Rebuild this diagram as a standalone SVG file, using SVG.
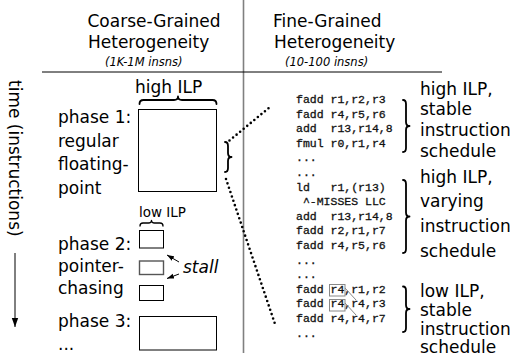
<svg xmlns="http://www.w3.org/2000/svg" width="513" height="362" viewBox="0 0 513 362">
<style>
  text { font-family: "DejaVu Sans", "Liberation Sans", sans-serif; fill: #000; }
  .h { font-size: 17px; }
  .sub { font-size: 11.5px; font-style: italic; }
  .lbl { font-size: 17px; }
  .small { font-size: 13.5px; }
  .code { font-family: "Liberation Mono", "DejaVu Sans Mono", monospace; font-size: 11.5px; fill: #111; stroke: #111; stroke-width: 0.3; white-space: pre; }
  .box { fill: none; stroke: #000; stroke-width: 1; }
  .brace { fill: none; stroke: #000; stroke-width: 1.8; stroke-linecap: round; stroke-linejoin: round; }
  .dots { fill: none; stroke: #000; stroke-width: 2.6; stroke-linecap: round; stroke-dasharray: 0 4.6; }
  .thin { fill: none; stroke: #000; stroke-width: 1; }
  .gray { fill: none; stroke: #888; stroke-width: 1; }
</style>
<defs>
  <marker id="ah" markerWidth="10" markerHeight="8" refX="9" refY="4" orient="auto" markerUnits="userSpaceOnUse">
    <path d="M0,0.8 L9,4 L0,7.2 Z" fill="#000"/>
  </marker>
  <marker id="ahs" markerWidth="8" markerHeight="6" refX="7" refY="3" orient="auto" markerUnits="userSpaceOnUse">
    <path d="M0,0.5 L7,3 L0,5.5 Z" fill="#000"/>
  </marker>
</defs>

<g id="frame">
  <line x1="243.5" y1="0" x2="243.5" y2="353" stroke="#808080" stroke-width="1.6"/>
  <line x1="42" y1="72" x2="442" y2="72" stroke="#000" stroke-width="1"/>
</g>

<g id="header-coarse">
  <text class="h" x="87.5" y="27">Coarse-Grained</text>
  <text class="h" x="88" y="47.5">Heterogeneity</text>
  <text class="sub" x="105" y="65.5">(1K-1M insns)</text>
</g>
<g id="header-fine">
  <text class="h" x="273" y="27">Fine-Grained</text>
  <text class="h" x="274" y="47.5">Heterogeneity</text>
  <text class="sub" x="285" y="65.5">(10-100 insns)</text>
</g>

<g id="time-axis">
  <text class="lbl" transform="translate(9,80) rotate(90)">time (instructions)</text>
  <line x1="15" y1="253" x2="15" y2="327" stroke="#000" stroke-width="1" marker-end="url(#ah)"/>
</g>

<g id="phase1">
  <text class="lbl" x="135" y="93">high ILP</text>
  <path class="brace" d="M139.5,104 Q139.5,100 143.5,100 L174,100 Q178,100 178,96.5 Q178,100 182,100 L212.5,100 Q216.5,100 216.5,104"/>
  <rect class="box" x="138.5" y="109.5" width="78" height="82"/>
  <text class="lbl" x="58" y="123">phase 1:</text>
  <text class="lbl" x="58" y="146.5">regular</text>
  <text class="lbl" x="58" y="170">floating-</text>
  <text class="lbl" x="58" y="193.5">point</text>
</g>

<g id="phase2">
  <text class="small" x="139" y="216.5">low ILP</text>
  <path class="brace" style="stroke-width:1.3" d="M140,226 Q140,223 143,223 L148.5,223 Q151.5,223 151.5,220.5 Q151.5,223 154.5,223 L160,223 Q163,223 163,226"/>
  <rect class="box" x="139.5" y="230.5" width="24" height="17.5"/>
  <rect class="box" x="139.5" y="261" width="24" height="13.5" style="stroke:#555;stroke-width:1.4"/>
  <rect class="box" x="139.5" y="285.5" width="24" height="15"/>
  <text class="lbl" x="58" y="250">phase 2:</text>
  <text class="lbl" x="58" y="271.5">pointer-</text>
  <text class="lbl" x="58" y="293.5">chasing</text>
  <text class="lbl" x="183" y="273" font-style="italic">stall</text>
</g>

<g id="phase3">
  <rect class="box" x="139.5" y="316.5" width="77" height="33.5"/>
  <text class="lbl" x="58" y="326.5">phase 3:</text>
  <text class="lbl" x="58" y="350">...</text>
</g>

<g id="code">
  <text class="code" xml:space="preserve" x="296" y="103">fadd r1,r2,r3</text>
  <text class="code" xml:space="preserve" x="296" y="117.6">fadd r4,r5,r6</text>
  <text class="code" xml:space="preserve" x="296" y="132.2">add  r13,r14,8</text>
  <text class="code" xml:space="preserve" x="296" y="146.8">fmul r0,r1,r4</text>
  <text class="code" xml:space="preserve" x="296" y="161.4">...</text>
  <text class="code" xml:space="preserve" x="296" y="176">...</text>
  <text class="code" xml:space="preserve" x="296" y="190.6">ld   r1,(r13)</text>
  <text class="code" xml:space="preserve" x="296" y="205.2"> ^-MISSES LLC</text>
  <text class="code" xml:space="preserve" x="296" y="219.8">add  r13,r14,8</text>
  <text class="code" xml:space="preserve" x="296" y="234.4">fadd r2,r1,r7</text>
  <text class="code" xml:space="preserve" x="296" y="249">fadd r4,r5,r6</text>
  <text class="code" xml:space="preserve" x="296" y="263.6">...</text>
  <text class="code" xml:space="preserve" x="296" y="278.2">...</text>
  <text class="code" xml:space="preserve" x="296" y="292.8">fadd r4,r1,r2</text>
  <text class="code" xml:space="preserve" x="296" y="307.4">fadd r4,r4,r3</text>
  <text class="code" xml:space="preserve" x="296" y="322">fadd r4,r4,r7</text>
  <text class="code" xml:space="preserve" x="296" y="336.6">...</text>
  <rect class="gray" x="329.5" y="284.5" width="15.5" height="11.5"/>
  <rect class="gray" x="329.5" y="299.5" width="15.5" height="11.5"/>
</g>

<g id="group1">
  <path class="brace" d="M403,100 Q406,100 406,104 L406,122 Q406,126 409.5,126 Q406,126 406,130 L406,148 Q406,152 403,152"/>
  <text class="lbl" x="420" y="94.5">high ILP,</text>
  <text class="lbl" x="420" y="115.3">stable</text>
  <text class="lbl" x="420" y="136.1">instruction</text>
  <text class="lbl" x="420" y="156.9">schedule</text>
</g>
<g id="group2">
  <path class="brace" d="M403,180 Q406,180 406,184 L406,212.5 Q406,216.5 409.5,216.5 Q406,216.5 406,220.5 L406,249 Q406,253 403,253"/>
  <text class="lbl" x="420" y="182.5">high ILP,</text>
  <text class="lbl" x="420" y="207">varying</text>
  <text class="lbl" x="420" y="232">instruction</text>
  <text class="lbl" x="420" y="256.5">schedule</text>
</g>
<g id="group3">
  <path class="brace" d="M403,286.5 Q406,286.5 406,290.5 L406,305 Q406,309 409.5,309 Q406,309 406,313 L406,328 Q406,332 403,332"/>
  <text class="lbl" x="420" y="297.3">low ILP,</text>
  <text class="lbl" x="420" y="316">stable</text>
  <text class="lbl" x="420" y="335">instruction</text>
  <text class="lbl" x="420" y="353.3">schedule</text>
</g>

<g id="zoom-brace">
  <path class="brace" d="M225,142 Q228,142 228,146 L228,153 Q228,157 231.5,157 Q228,157 228,161 L228,168 Q228,172 225,172"/>
</g>

<g id="connectors">
  <line class="dots" x1="229.5" y1="140.5" x2="270" y2="107"/>
  <line class="dots" x1="226" y1="179" x2="276" y2="327"/>
  <line class="thin" x1="179" y1="262" x2="167" y2="255" marker-end="url(#ahs)"/>
  <line class="thin" x1="179" y1="274" x2="167" y2="278.5" marker-end="url(#ahs)"/>
  <line class="gray" x1="345" y1="288" x2="356" y2="300"/>
  <line class="gray" x1="345" y1="303" x2="356" y2="315"/>
</g>
</svg>
